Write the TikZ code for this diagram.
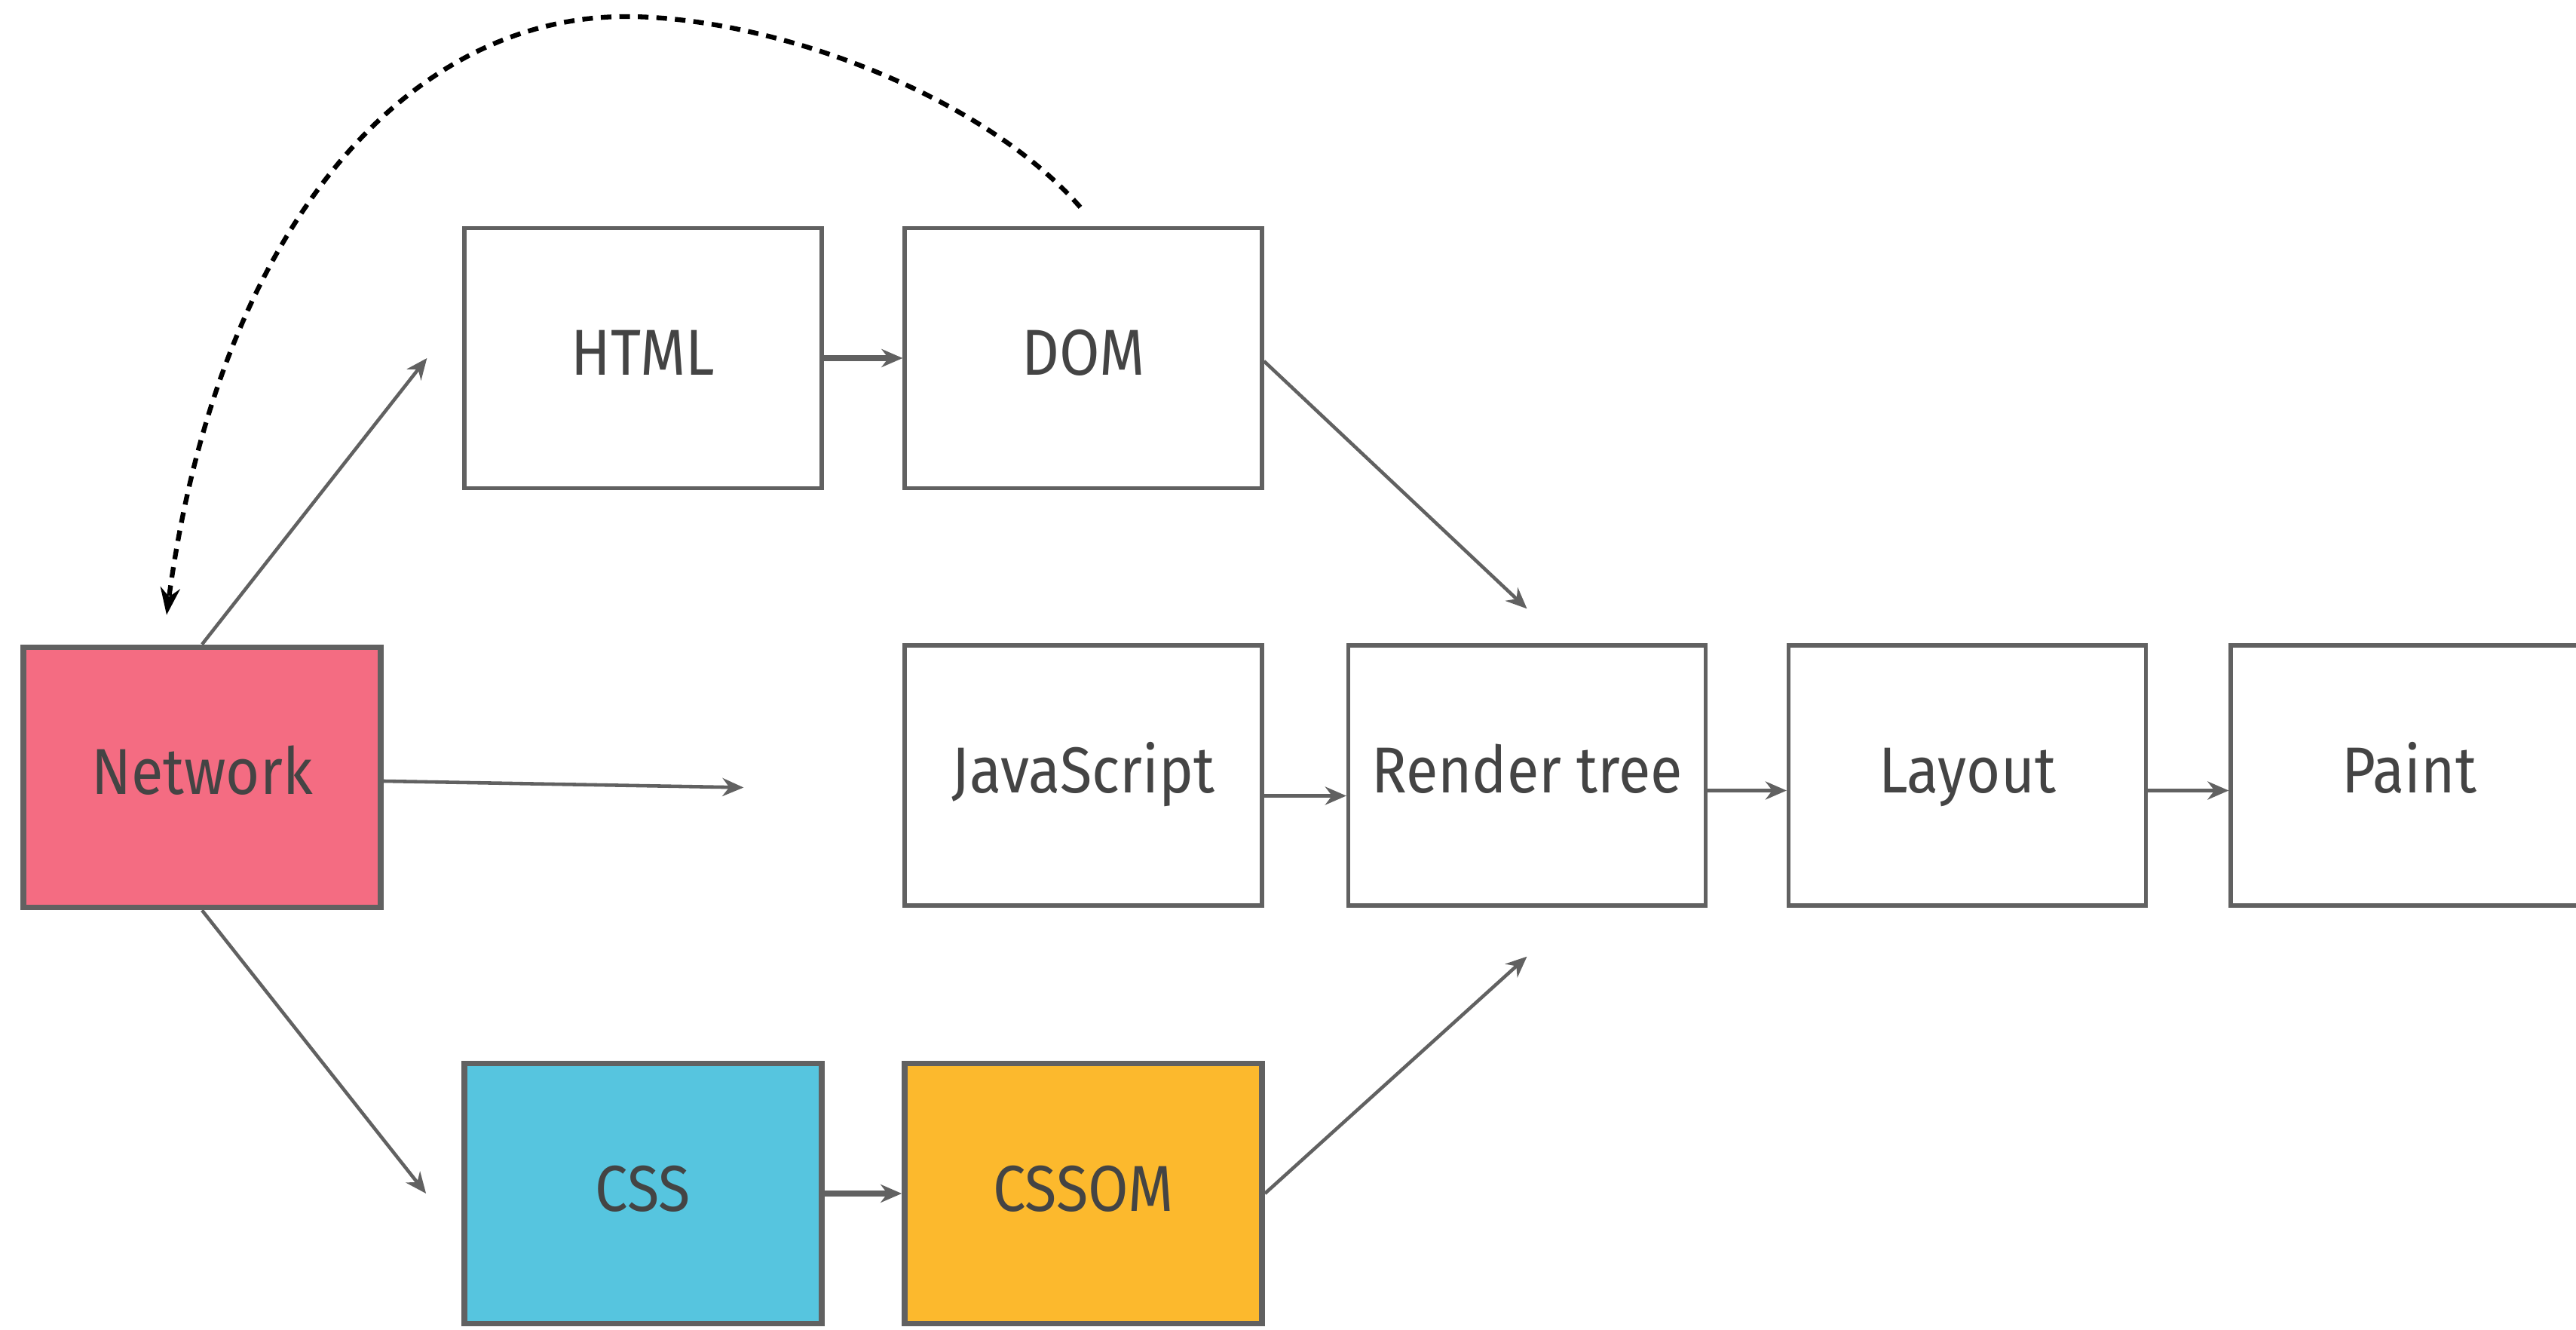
\documentclass[tikz,border=0pt]{standalone}
\usepackage{fontspec}
\setmainfont[FakeStretch=0.9]{Fira Sans}
\usetikzlibrary{calc,arrows.meta}
\definecolor{bord}{HTML}{616161}
\definecolor{txt}{HTML}{444444}
\definecolor{pinkc}{HTML}{F46C82}
\definecolor{bluec}{HTML}{56C5DF}
\definecolor{orangec}{HTML}{FCB92D}
\tikzset{
  box/.style={draw=bord, line width=1.5pt, minimum width=4.74cm, minimum height=3.45cm,
    inner sep=0pt, text=txt, font=\fontsize{24.5}{28}\selectfont,
    text height=0.62cm, text depth=0.16cm},
  thickbox/.style={box, line width=2.2pt},
  conn/.style={draw=bord, line width=1.3pt, -{Stealth[length=2.8mm,width=2.4mm,inset=0.9mm]}},
  shortconn/.style={conn, line width=2.2pt},
  dotconn/.style={draw=black, line width=1.8pt, dash pattern=on 4pt off 3pt,
    -{Stealth[length=3.6mm,width=2.6mm]}}
}
\begin{document}
\begin{tikzpicture}
\useasboundingbox (0,0) rectangle (34.17,17.63);
\clip (0,0) rectangle (34.17,17.63);
\node[thickbox, fill=pinkc] (net) at (2.68,7.32) {Network};
\node[box] (html) at (8.53,12.88) {HTML};
\node[box] (dom) at (14.37,12.88) {DOM};
\node[box] (js) at (14.37,7.345) {JavaScript};
\node[box] (rt) at (20.255,7.345) {Render tree};
\node[box] (lay) at (26.095,7.345) {Layout};
\node[box] (paint) at (31.96,7.345) {Paint};
\node[thickbox, fill=bluec] (css) at (8.53,1.80) {CSS};
\node[thickbox, fill=orangec] (cssom) at (14.37,1.80) {CSSOM};

\coordinate (free) at ($(js.west)+(-2.11,-0.16)$);

\draw[conn] (net.north) -- ($(html.west)+(-0.47,0)$);
\draw[conn] ($(net.east)+(0,-0.05)$) -- (free);
\draw[conn] (net.south) -- ($(css.west)+(-0.47,0)$);
\draw[shortconn] (html.east) -- (dom.west);
\draw[shortconn] (css.east) -- (cssom.west);
\draw[conn] ($(dom.east)+(0,-0.04)$) -- ($(rt.north)+(0,0.46)$);
\draw[conn] (cssom.east) -- ($(rt.south)+(0,-0.65)$);
\draw[conn] ($(js.east)+(0,-0.27)$) -- ($(rt.west)+(0,-0.27)$);
\draw[conn] ($(rt.east)+(0,-0.2)$) -- ($(lay.west)+(0,-0.2)$);
\draw[conn] ($(lay.east)+(0,-0.2)$) -- ($(paint.west)+(0,-0.2)$);

\coordinate (ds) at ($(dom.north)+(-0.04,0.25)$);
\coordinate (dpeak) at (8.30,17.41);
\coordinate (de) at ($(net.north)+(-0.47,0.39)$);
\draw[dotconn] (ds) .. controls (13.0,16.4) and (10.2,17.41) .. (dpeak)
  .. controls (5.4,17.41) and (2.9,14.6) .. (de);
\end{tikzpicture}
\end{document}
